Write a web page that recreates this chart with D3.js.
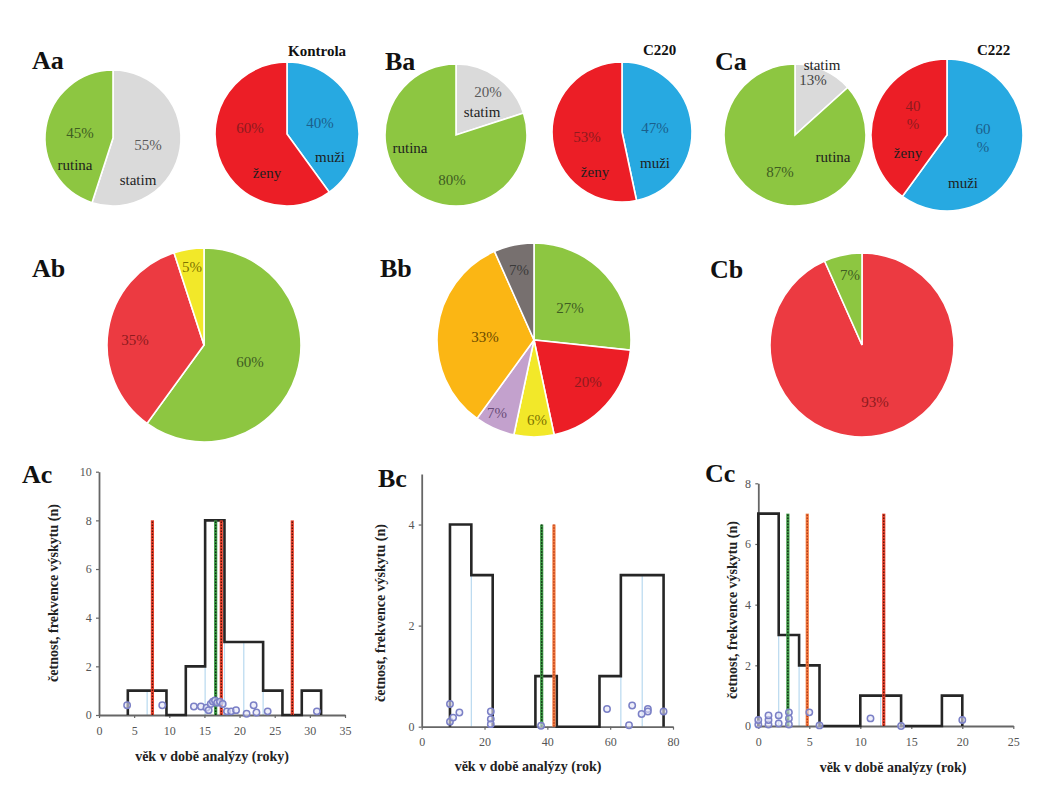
<!DOCTYPE html>
<html><head><meta charset="utf-8">
<script src="https://cdn.jsdelivr.net/npm/d3@7"></script>
<style>
body{margin:0;background:#fff}
svg{display:block}
svg text{font-family:"Liberation Serif","DejaVu Serif",serif !important}
</style>
</head><body>
<svg id="c" width="1041" height="800" font-family="Liberation Serif, serif"></svg>
<script>
// ---------------- DATA ----------------
// row a: request type (statim/rutina) and sex (muži/ženy)
const aaNames = ["statim", "rutina"], aaValues = [11, 9], aaPct = ["55%", "45%"];
const akNames = ["muži", "ženy"],     akValues = [8, 12],  akPct = ["40%", "60%"];
const baNames = ["statim", "rutina"], baValues = [3, 12],  baPct = ["20%", "80%"];
const bkNames = ["muži", "ženy"],     bkValues = [7, 8],   bkPct = ["47%", "53%"];
const caNames = ["statim", "rutina"], caValues = [2, 13],  caPct = ["13%", "87%"];
const ckNames = ["muži", "ženy"],     ckValues = [9, 6],   ckPct = ["60\n%", "40\n%"];
// row b
const abValues = [12, 7, 1],          abPct = ["60%", "35%", "5%"];
const bbValues = [4, 3, 1, 1, 5, 1],  bbPct = ["27%", "20%", "6%", "7%", "33%", "7%"];
const cbValues = [14, 1],             cbPct = ["93%", "7%"];
// row c: histograms (bin edges, counts), statistic lines, individual ages (age, jitter)
const acEdges  = [4.1, 6.85, 9.6, 12.35, 15.1, 17.85, 20.6, 23.35, 26.1, 28.85, 31.6];
const acCounts = [1, 1, 0, 2, 8, 3, 3, 1, 0, 1];
const acLines  = [7.6, 16.6, 17.4, 27.5];
const acLineKinds = ["red", "green", "red", "red"];
const acAges   = [4, 9, 13.5, 14.5, 15.3, 15.6, 15.9, 16.2, 16.5, 16.8, 17.2, 17.6, 18.2, 18.8, 19.5, 21, 22, 22.4, 24, 31];
const acJitter = [0.4, 0.4, 0.35, 0.35, 0.3, 0.2, 0.45, 0.55, 0.6, 0.5, 0.55, 0.45, 0.15, 0.15, 0.2, 0.05, 0.4, 0.1, 0.15, 0.15];
const acXTicks = [0, 5, 10, 15, 20, 25, 30, 35];
const acYTicks = [0, 2, 4, 6, 8, 10];

const bcEdges  = [9, 15.8, 22.6, 29.4, 36.2, 43, 49.8, 56.6, 63.4, 70.2, 77];
const bcCounts = [4, 3, 0, 0, 1, 0, 0, 1, 3, 3];
const bcLines  = [38.2, 42.1];
const bcLineKinds = ["green", "orange"];
const bcAges   = [9, 9, 10, 12, 22, 22, 22, 38, 59, 66, 67, 70, 72, 72, 77];
const bcJitter = [0.45, 0.1, 0.18, 0.28, 0.3, 0.15, 0.05, 0.02, 0.35, 0.03, 0.42, 0.25, 0.35, 0.3, 0.3];
const bcXTicks = [0, 20, 40, 60, 80];
const bcYTicks = [0, 2, 4];

const ccEdges  = [0, 2, 4, 6, 8, 10, 12, 14, 16, 18, 20];
const ccCounts = [7, 3, 2, 0, 0, 1, 1, 0, 0, 1];
const ccLines  = [2.9, 4.8, 12.3];
const ccLineKinds = ["green", "orange", "red"];
const ccAges   = [0, 0, 1, 1, 1, 2, 2, 3, 3, 3, 5, 6, 11, 14, 20];
const ccJitter = [0.05, 0.2, 0.05, 0.2, 0.35, 0.08, 0.35, 0.05, 0.25, 0.45, 0.45, 0.02, 0.25, 0.0, 0.2];
const ccXTicks = [0, 5, 10, 15, 20, 25];
const ccYTicks = [0, 2, 4, 6, 8];

// ---------------- STYLE ----------------
const FONT = "Liberation Serif, DejaVu Serif, serif";
const GREEN = "#8dc641", GRAY = "#dadada", RED = "#ec1e26", BLUE = "#27a9e1",
      CORAL = "#ec3a41", YELLOW = "#f2e829", ORANGE = "#fbb614", PURPLE = "#c3a1cd", DGRAY = "#77706f";
const svg = d3.select("#c");

// ---------------- PIES ----------------
const pies = [
  {values: aaValues, pct: aaPct, names: aaNames, colors: [GRAY, GREEN], cx: 113, cy: 138, r: 68,
   pctPos: [[35, 7], [-33, -5]], namePos: [[25, 42], [-38, 27]], pctCol: ["#5a5a5a", "#3f5d22"]},
  {values: akValues, pct: akPct, names: akNames, colors: [BLUE, RED], cx: 287, cy: 134, r: 72,
   pctPos: [[33, -11], [-37, -6]], namePos: [[43, 23], [-20, 39]], pctCol: ["#1b5f8c", "#8e1a1e"]},
  {values: baValues, pct: baPct, names: baNames, colors: [GRAY, GREEN], cx: 456, cy: 135, r: 71,
   pctPos: [[32, -43], [-4, 45]], namePos: [[26, -23], [-46, 13]], pctCol: ["#5a5a5a", "#3f5d22"]},
  {values: bkValues, pct: bkPct, names: bkNames, colors: [BLUE, RED], cx: 622, cy: 132, r: 70,
   pctPos: [[33, -4], [-35, 5]], namePos: [[33, 31], [-27, 40]], pctCol: ["#1b5f8c", "#8e1a1e"]},
  {values: caValues, pct: caPct, names: caNames, colors: [GRAY, GREEN], cx: 795, cy: 135, r: 71,
   pctPos: [[18, -55], [-15, 37]], namePos: [[27, -70], [38, 22]], pctCol: ["#444", "#3f5d22"]},
  {values: ckValues, pct: ckPct, names: ckNames, colors: [BLUE, RED], cx: 947, cy: 135, r: 76,
   pctPos: [[36, 3], [-34, -20]], namePos: [[16, 48], [-39, 18]], pctCol: ["#1b5f8c", "#8e1a1e"]},
  {values: abValues, pct: abPct, names: null, colors: [GREEN, CORAL, YELLOW], cx: 204, cy: 345, r: 97,
   pctPos: [[46, 17], [-69, -5], [-12, -78]], pctCol: ["#3f5d22", "#8e1a1e", "#7d7400"]},
  {values: bbValues, pct: bbPct, names: null, colors: [GREEN, RED, YELLOW, PURPLE, ORANGE, DGRAY], cx: 534, cy: 340, r: 97,
   pctPos: [[36, -32], [54, 42], [3, 80], [-37, 73], [-49, -3], [-15, -70]],
   pctCol: ["#3f5d22", "#8e1a1e", "#7d7400", "#6a4c78", "#6b4a00", "#3a3a3a"]},
  {values: cbValues, pct: cbPct, names: null, colors: [CORAL, GREEN], cx: 862, cy: 345, r: 92,
   pctPos: [[13, 57], [-12, -70]], pctCol: ["#8e1a1e", "#3f5d22"]}
];

const pieGen = d3.pie().sort(null).value(d => d);
function multiText(g, str, x, y, fill, size, weight) {
  const lines = str.split("\n");
  const t = g.append("text").attr("x", x).attr("y", y).attr("text-anchor", "middle")
    .attr("font-family", FONT)
    .attr("fill", fill).attr("font-size", size).attr("font-weight", weight || "normal");
  lines.forEach((l, i) => {
    t.append("tspan").attr("x", x).attr("y", y + (i - (lines.length - 1) / 2) * size * 1.2)
      .attr("dy", "0.35em").text(l);
  });
}
pies.forEach(p => {
  const g = svg.append("g").attr("transform", `translate(${p.cx},${p.cy})`);
  const arc = d3.arc().innerRadius(0).outerRadius(p.r);
  g.selectAll("path").data(pieGen(p.values)).join("path")
    .attr("d", arc).attr("fill", (d, i) => p.colors[i])
    .attr("stroke", "#fff").attr("stroke-width", 1.6);
  p.pct.forEach((s, i) => multiText(g, s, p.pctPos[i][0], p.pctPos[i][1], p.pctCol[i], 15));
  if (p.names) p.names.forEach((s, i) => multiText(g, s, p.namePos[i][0], p.namePos[i][1], "#1e1e1e", 15));
});

// panel letters + titles
const panelLabels = [["Aa", 32, 69], ["Ba", 385, 70], ["Ca", 715, 70], ["Ab", 32, 277], ["Bb", 380, 277],
                     ["Cb", 710, 278], ["Ac", 22, 483], ["Bc", 378, 487], ["Cc", 705, 482]];
panelLabels.forEach(l => svg.append("text").attr("x", l[1]).attr("y", l[2]).attr("font-family", FONT)
  .attr("font-size", 26).attr("font-weight", "bold").attr("fill", "#111").text(l[0]));
const groupTitles = [["Kontrola", 288, 56], ["C220", 643, 55], ["C222", 977, 55]];
groupTitles.forEach(l => svg.append("text").attr("x", l[1]).attr("y", l[2]).attr("font-family", FONT)
  .attr("font-size", 15).attr("font-weight", "bold").attr("fill", "#111").text(l[0]));

// ---------------- HISTOGRAMS ----------------
const lineStyles = {
  red:    {base: "#e8432e", dots: "#5b1208"},
  orange: {base: "#f37a3e", dots: "#b23a1a"},
  green:  {base: "#3d9a44", dots: "#0e2a10"}
};
const hists = [
  {edges: acEdges, counts: acCounts, lines: acLines, kinds: acLineKinds, lineTop: 8, ages: acAges, jit: acJitter,
   xt: acXTicks, yt: acYTicks, xmax: 35, ymax: 10, x0: 99, x1: 345, y0: 715, y1: 471.7,
   xTitle: "věk v době analýzy (roky)", xtx: 212, xty: 761, ytx: 53, yty: 593},
  {edges: bcEdges, counts: bcCounts, lines: bcLines, kinds: bcLineKinds, lineTop: 4, ages: bcAges, jit: bcJitter,
   xt: bcXTicks, yt: bcYTicks, xmax: 80, ymax: 5, x0: 421.7, x1: 673, y0: 726.7, y1: 474,
   xTitle: "věk v době analýzy (rok)", xtx: 528, xty: 771, ytx: 380, yty: 613},
  {edges: ccEdges, counts: ccCounts, lines: ccLines, kinds: ccLineKinds, lineTop: 7, ages: ccAges, jit: ccJitter,
   xt: ccXTicks, yt: ccYTicks, xmax: 25, ymax: 8, x0: 758.3, x1: 1013.3, y0: 726, y1: 483.3,
   xTitle: "věk v době analýzy (rok)", xtx: 893, xty: 772, ytx: 732, yty: 610}
];

hists.forEach(h => {
  const x = d3.scaleLinear().domain([0, h.xmax]).range([h.x0, h.x1]);
  const y = d3.scaleLinear().domain([0, h.ymax]).range([h.y0, h.y1]);
  const g = svg.append("g");

  // light inner bin separators
  const inner = [];
  for (let i = 1; i < h.counts.length; i++) {
    const m = Math.min(h.counts[i - 1], h.counts[i]);
    if (m > 0) inner.push({e: h.edges[i], m});
  }
  g.selectAll("line.sep").data(inner).join("line").attr("class", "sep")
    .attr("x1", d => x(d.e)).attr("x2", d => x(d.e)).attr("y1", y(0)).attr("y2", d => y(d.m))
    .attr("stroke", "#b8d9ef").attr("stroke-width", 1.2);

  // axes
  const ya = g.append("g").attr("transform", `translate(${h.x0},0)`)
    .call(d3.axisLeft(y).tickValues(h.yt).tickSize(3).tickSizeOuter(0).tickFormat(d3.format("d")));
  const xa = g.append("g").attr("transform", `translate(0,${h.y0})`)
    .call(d3.axisBottom(x).tickValues(h.xt).tickSize(3).tickSizeOuter(0).tickFormat(d3.format("d")));
  [ya, xa].forEach(a => {
    a.attr("font-family", FONT);
    a.select(".domain").attr("stroke", "#666").attr("stroke-width", 1.8);
    a.selectAll(".tick line").attr("stroke", "#666").attr("stroke-width", 1.2);
    a.selectAll(".tick text").attr("font-family", FONT).attr("font-size", 12).attr("fill", "#555");
  });
  xa.selectAll(".tick text").attr("dy", "1.15em");
  ya.selectAll(".tick text").attr("dx", "-0.1em");

  // histogram outline (step)
  const pts = [[h.edges[0], 0]];
  h.counts.forEach((c, i) => pts.push([h.edges[i], c]));
  pts.push([h.edges[h.edges.length - 1], 0]);
  const step = d3.line().x(d => x(d[0])).y(d => y(d[1])).curve(d3.curveStepAfter);
  g.append("path").attr("d", step(pts)).attr("fill", "none")
    .attr("stroke", "#262626").attr("stroke-width", 2.6).attr("stroke-linejoin", "miter");

  // statistic lines
  h.lines.forEach((v, i) => {
    const st = lineStyles[h.kinds[i]];
    g.append("line").attr("x1", x(v)).attr("x2", x(v)).attr("y1", y(0)).attr("y2", y(h.lineTop))
      .attr("stroke", st.base).attr("stroke-width", 3.2);
    g.append("line").attr("x1", x(v)).attr("x2", x(v)).attr("y1", y(0)).attr("y2", y(h.lineTop))
      .attr("stroke", st.dots).attr("stroke-width", 1.4).attr("stroke-dasharray", "1.5,1.5");
  });

  // individual ages
  g.selectAll("circle").data(h.ages).join("circle")
    .attr("cx", d => x(d)).attr("cy", (d, i) => y(h.jit[i])).attr("r", 3.2)
    .attr("fill", "#e4e5f6").attr("fill-opacity", 0.6).attr("stroke", "#7b80c6").attr("stroke-width", 1.5);

  // titles
  svg.append("text").attr("x", h.xtx).attr("y", h.xty).attr("text-anchor", "middle").attr("font-family", FONT)
    .attr("font-size", 14).attr("font-weight", "bold").attr("fill", "#222").text(h.xTitle);
  svg.append("text").attr("transform", `translate(${h.ytx},${h.yty}) rotate(-90)`).attr("text-anchor", "middle")
    .attr("font-family", FONT)
    .attr("dy", "0.35em").attr("font-size", 14).attr("font-weight", "bold").attr("fill", "#222")
    .text("četnost, frekvence výskytu (n)");
});
</script>
</body></html>
